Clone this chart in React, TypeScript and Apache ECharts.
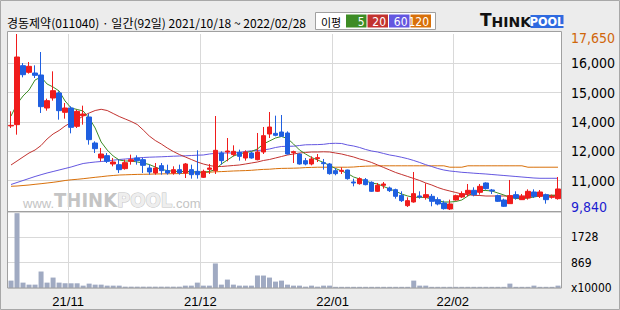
import React, { useEffect, useRef } from 'react';
import * as echarts from 'echarts';

// ---------- data ----------
const categories = [
  '21/10/18','21/10/19','21/10/20','21/10/21','21/10/22','21/10/25','21/10/26','21/10/27','21/10/28','21/10/29',
  '21/11/01','21/11/02','21/11/03','21/11/04','21/11/05','21/11/08','21/11/09','21/11/10','21/11/11','21/11/12',
  '21/11/15','21/11/16','21/11/17','21/11/18','21/11/19','21/11/22','21/11/23','21/11/24','21/11/25','21/11/26',
  '21/11/29','21/11/30',
  '21/12/01','21/12/02','21/12/03','21/12/06','21/12/07','21/12/08','21/12/09','21/12/10','21/12/13','21/12/14',
  '21/12/15','21/12/16','21/12/17','21/12/20','21/12/21','21/12/22','21/12/23','21/12/24','21/12/27','21/12/28',
  '21/12/29','21/12/30',
  '22/01/03','22/01/04','22/01/05','22/01/06','22/01/07','22/01/10','22/01/11','22/01/12','22/01/13','22/01/14',
  '22/01/17','22/01/18','22/01/19','22/01/20','22/01/21','22/01/24','22/01/25','22/01/26','22/01/27','22/01/28',
  '22/02/03','22/02/04','22/02/07','22/02/08','22/02/09','22/02/10','22/02/11','22/02/14','22/02/15','22/02/16',
  '22/02/17','22/02/18','22/02/21','22/02/22','22/02/23','22/02/24','22/02/25','22/02/28',
];

const opens = [
  13570,13627,16245,15949,15919,15831,14366,14810,15032,14174,
  14366,13553,14026,13967,12813,12148,12251,11882,11852,11675,
  12000,12148,12074,11704,11482,11808,11586,11482,11630,11482,
  11630,11556,11290,11645,11586,12370,12414,12296,12399,12148,
  12370,12074,12414,13213,13242,13301,13257,12385,12325,12030,
  11882,12118,11941,11882,11586,11556,11615,11083,11009,11187,
  11068,10669,10935,10817,10743,10491,10033,10196,10462,10403,
  10447,10299,10151,9885,10284,10417,10566,10713,10625,11039,
  10728,10477,10284,10122,10521,10299,10373,10639,10447,10521,
  10403,10344,
];
const closes = [
  13597,16629,15845,16215,15816,14426,14692,15135,14248,14366,
  13509,14218,14100,12961,12562,12325,12000,11970,11630,11941,
  12074,12030,11822,11527,11704,11586,11482,11630,11482,11882,
  11408,11408,11556,11704,12488,12030,12458,12444,12222,12414,
  12148,12414,13139,13523,13154,13109,12325,12429,11882,11882,
  12104,12163,11896,11453,11453,11601,11231,11039,11231,10965,
  10669,10935,10994,10699,10447,10255,10255,10566,10417,10521,
  10225,10107,9900,10107,10477,10566,10713,10521,10891,10787,
  10684,10225,10004,10477,10373,10447,10669,10447,10639,10299,
  10447,10773,
];
const lows = [
  13479,13183,15727,15890,15698,14145,14248,14692,13849,13893,
  13242,13479,13627,12739,12370,12000,11926,11778,11482,11630,
  11852,11852,11482,11408,11408,11408,11408,11408,11408,11260,
  11231,11231,11260,11438,11438,11852,12000,12222,12030,12030,
  12118,12044,12325,13035,13109,13080,12296,11926,11852,11822,
  11822,11970,11630,11408,11379,11438,11187,10891,10965,10935,
  10639,10639,10787,10639,10344,10196,9974,10166,10344,10299,
  10004,10048,9856,9840,10255,10373,10447,10447,10521,10743,
  10551,10196,9974,10107,10299,10284,10299,10373,10373,10122,
  10344,10299,
];
const highs = [
  14218,17650,16363,16407,16260,16851,14781,15993,15106,14588,
  14440,14292,14470,14115,12887,12592,12370,12148,12074,12074,
  12296,12266,12148,11852,11926,11926,11852,11778,11852,11926,
  11852,12488,11630,11882,14011,12444,13035,12710,12518,12488,
  12414,13257,13523,14189,14026,14056,13331,12473,12355,12148,
  12222,12325,12104,11926,11704,11734,11630,11231,11290,11260,
  11113,11039,11083,10876,10787,10669,10403,11527,10669,11024,
  10551,10403,10255,10299,10521,10669,10994,10846,10994,11068,
  10773,10521,10344,11172,10669,10551,10758,10758,10728,10566,
  10521,11305,
];

// volume, x10000 shares
const volumes = [
  253,2560,184,115,115,564,184,357,184,161,
  161,161,81,150,115,115,81,81,81,46,
  46,46,46,46,46,46,46,46,46,81,
  81,184,81,81,840,115,288,115,81,81,
  81,426,426,357,219,253,115,81,81,46,
  81,46,81,81,40,40,40,40,40,40,
  40,40,40,40,40,40,40,253,81,81,
  40,40,40,40,40,40,40,40,40,40,
  40,40,40,150,40,40,40,81,40,40,
  40,81,
];

const ma5 = [
  14011,14544,14899,15165,15609,15742,15431,15298,15121,14677,
  14366,14300,14233,13922,13479,12858,12503,12236,12059,12014,
  12014,11970,11926,11859,11748,11637,11593,11557,11548,11548,
  11548,11526,11526,11548,11637,11881,12059,12236,12325,12392,
  12436,12547,12769,12902,13035,13102,13013,12769,12503,12325,
  12170,12059,11948,11815,11681,11571,11460,11304,11216,11127,
  11038,10994,10883,10772,10670,10550,10461,10404,10404,10395,
  10328,10262,10195,10195,10217,10284,10461,10617,10705,10705,
  10683,10594,10506,10395,10350,10341,10373,10417,10461,10483,
  10492,10492,
];
const ma20 = [
  11837,12014,12192,12369,12503,12702,12991,13213,13368,13568,
  13723,13834,14011,14144,14255,14309,14255,14122,13989,13878,
  13767,13634,13390,13124,12924,12769,12591,12436,12303,12192,
  12081,11970,11881,11815,11770,11770,11793,11815,11837,11881,
  11926,11970,12037,12081,12148,12214,12281,12325,12369,12392,
  12414,12414,12423,12414,12369,12325,12258,12192,12103,12037,
  11948,11837,11726,11615,11504,11415,11327,11238,11149,11038,
  10949,10838,10750,10683,10617,10550,10519,10492,10483,10461,
  10461,10461,10461,10461,10461,10461,10461,10461,10492,10492,
  10492,10492,
];
const ma60 = [
  10972,11060,11149,11238,11327,11406,11482,11548,11615,11682,
  11748,11828,11903,11939,11970,11992,12014,12050,12081,12103,
  12125,12148,12170,12183,12192,12201,12214,12227,12236,12245,
  12258,12272,12281,12325,12356,12369,12369,12369,12392,12436,
  12467,12480,12503,12547,12613,12658,12667,12671,12702,12733,
  12738,12742,12755,12791,12800,12791,12724,12680,12613,12525,
  12458,12414,12347,12281,12236,12179,12116,12037,11948,11850,
  11770,11682,11615,11571,11544,11513,11495,11473,11455,11438,
  11415,11393,11371,11349,11327,11304,11282,11260,11247,11247,
  11247,11247,
];
const ma120 = [
  10892,10905,10927,10949,10980,11007,11038,11069,11105,11149,
  11180,11202,11229,11260,11291,11318,11349,11371,11393,11402,
  11411,11420,11424,11429,11438,11442,11446,11451,11455,11469,
  11482,11491,11500,11517,11535,11544,11557,11571,11580,11588,
  11602,11624,11642,11650,11673,11686,11690,11695,11704,11722,
  11730,11739,11739,11739,11739,11739,11739,11748,11770,11784,
  11793,11801,11801,11801,11801,11801,11801,11801,11801,11801,
  11801,11801,11801,11739,11739,11739,11801,11801,11801,11801,
  11801,11801,11801,11801,11801,11801,11739,11739,11739,11739,
  11739,11739,
];

const priceMin = 9840;
const priceMax = 17650;
const priceTickLabels = ['9,840', '11,000', '12,000', '14,000', '15,000', '16,000', '17,650'];
const volMax = 2600;
const volTickLabels = ['x10000', '869', '1728', ''];

const titleText = '경동제약(011040) · 일간(92일) 2021/10/18 ~ 2022/02/28';
const maLegendTitle = '이평';
const maNames = ['5', '20', '60', '120'];

// ---------- styles ----------
const UP = '#f01c1c';
const DOWN = '#1f5fe0';
const MA_COLORS = ['#3d8c25', '#c23330', '#6457e0', '#d8700a'];
const GRID_LINE = '#d9d9d9';
const FRAME = '#a0a0a0';
const VOL_COLOR = '#a0aac2';
const NARROW = '"Liberation Sans Narrow", "DejaVu Sans Condensed", "Liberation Sans", sans-serif';
const SANS = '"Liberation Sans", "DejaVu Sans", sans-serif';
const KR = '"Noto Sans CJK KR", "Noto Sans", sans-serif';

const isMonthStart = (idx: number) =>
  idx > 0 && categories[idx].slice(0, 5) !== categories[idx - 1].slice(0, 5);

export default function App() {
  const ref = useRef<HTMLDivElement>(null);

  useEffect(() => {
    if (!ref.current) return;
    const chart = echarts.init(ref.current, undefined, { renderer: 'svg', width: 620, height: 310 });

    const priceTicks = priceTickLabels.map((_, k) => priceMin + (k * (priceMax - priceMin)) / (priceTickLabels.length - 1));
    const volStep = volMax / (volTickLabels.length - 1);

    const candleData = opens.map((o, i) => [o, closes[i], lows[i], highs[i]]);

    const maBoxX = [346, 367.5, 389, 410.5];

    const option: any = {
      animation: false,
      backgroundColor: '#ececec',
      grid: [
        { left: 8, top: 34, width: 553, height: 176, outerBoundsMode: 'none', containLabel: false },
        { left: 8, top: 212, width: 553, height: 76, outerBoundsMode: 'none', containLabel: false },
      ],
      xAxis: [
        {
          type: 'category', gridIndex: 0, data: categories, boundaryGap: true,
          axisLine: { show: false }, axisTick: { show: false }, axisLabel: { show: false },
          splitLine: { show: true, interval: (i: number) => isMonthStart(i), lineStyle: { color: GRID_LINE, width: 1 } },
        },
        {
          type: 'category', gridIndex: 1, data: categories, boundaryGap: true,
          axisLine: { show: false }, axisTick: { show: false },
          axisLabel: {
            show: true, interval: (i: number) => isMonthStart(i), formatter: (v: string) => v.slice(0, 5),
            color: '#000', fontFamily: SANS, fontSize: 13, margin: 7, padding: [0, 6, 0, 0],
          },
          splitLine: { show: true, interval: (i: number) => isMonthStart(i), lineStyle: { color: GRID_LINE, width: 1 } },
        },
      ],
      yAxis: [
        {
          type: 'value', gridIndex: 0, position: 'right', min: priceMin, max: priceMax,
          axisLine: { show: false },
          axisTick: { show: false, customValues: priceTicks.slice(1, -1) },
          splitLine: { show: true, lineStyle: { color: GRID_LINE, width: 1 } },
          axisLabel: {
            customValues: priceTicks, margin: 10, color: '#000', fontFamily: NARROW, fontSize: 14,
            formatter: (v: number) => {
              const k = priceTicks.findIndex((t) => Math.abs(t - v) < 0.5);
              if (k < 0) return '';
              if (k === 0) return '{lo|' + priceTickLabels[k] + '}';
              if (k === priceTicks.length - 1) return '{hi|' + priceTickLabels[k] + '}';
              return priceTickLabels[k];
            },
            rich: {
              lo: { color: '#1c1cd0', fontFamily: NARROW, fontSize: 14, padding: [0, 0, 6, 0] },
              hi: { color: '#d0660a', fontFamily: NARROW, fontSize: 14, padding: [8, 0, 0, 0] },
            },
          },
        },
        {
          type: 'value', gridIndex: 1, position: 'right', min: 0, max: volMax, interval: volStep,
          axisLine: { show: false }, axisTick: { show: false },
          splitLine: { show: true, lineStyle: { color: GRID_LINE, width: 1 } },
          axisLabel: {
            margin: 10, color: '#000', fontFamily: NARROW, fontSize: 12, showMaxLabel: true, showMinLabel: true,
            formatter: (v: number) => volTickLabels[Math.round(v / volStep)] ?? '',
          },
        },
      ],
      series: [
        { type: 'line', name: 'MA120', xAxisIndex: 0, yAxisIndex: 0, data: ma120, showSymbol: false, symbol: 'none', lineStyle: { color: MA_COLORS[3], width: 1 }, z: 1, silent: true },
        { type: 'line', name: 'MA60', xAxisIndex: 0, yAxisIndex: 0, data: ma60, showSymbol: false, symbol: 'none', lineStyle: { color: MA_COLORS[2], width: 1 }, z: 1, silent: true },
        { type: 'line', name: 'MA20', xAxisIndex: 0, yAxisIndex: 0, data: ma20, showSymbol: false, symbol: 'none', lineStyle: { color: MA_COLORS[1], width: 1 }, z: 1, silent: true },
        { type: 'line', name: 'MA5', xAxisIndex: 0, yAxisIndex: 0, data: ma5, showSymbol: false, symbol: 'none', lineStyle: { color: MA_COLORS[0], width: 1 }, z: 1, silent: true },
        {
          type: 'candlestick', name: '경동제약', xAxisIndex: 0, yAxisIndex: 0, data: candleData, barWidth: 5, z: 3,
          itemStyle: { color: UP, color0: DOWN, borderColor: UP, borderColor0: DOWN, borderWidth: 1 },
        },
        { type: 'bar', name: '거래량', xAxisIndex: 1, yAxisIndex: 1, data: volumes, barWidth: 5, itemStyle: { color: VOL_COLOR }, z: 2 },
      ],
      graphic: [
        { type: 'rect', z: -10, shape: { x: 7.5, y: 31.5, width: 554, height: 256.5 }, style: { fill: '#ffffff' }, silent: true },
        { type: 'rect', z: 100, shape: { x: 7.5, y: 31.5, width: 554, height: 256.5 }, style: { fill: 'none', stroke: FRAME, lineWidth: 1 }, silent: true },
        { type: 'line', z: 100, shape: { x1: 7.5, y1: 211.5, x2: 561.5, y2: 211.5 }, style: { stroke: FRAME, lineWidth: 1 }, silent: true },
        { type: 'rect', z: 100, shape: { x: 0.5, y: 0.5, width: 619, height: 309 }, style: { fill: 'none', stroke: '#a8a8a8', lineWidth: 1 }, silent: true },
        // title
        { type: 'text', x: 7, y: 22.5, style: { text: titleText, fill: '#000', fontFamily: KR, fontSize: 12, align: 'left', verticalAlign: 'middle' } },
        // MA legend box
        { type: 'rect', shape: { x: 315.5, y: 12.5, width: 120, height: 17 }, style: { fill: '#ffffff', stroke: FRAME, lineWidth: 1 } },
        { type: 'text', x: 321, y: 21.5, style: { text: maLegendTitle, fill: '#000', fontFamily: KR, fontSize: 11, align: 'left', verticalAlign: 'middle' } },
        ...maNames.flatMap((n, k) => [
          { type: 'rect', shape: { x: maBoxX[k], y: 14.5, width: 20.5, height: 13 }, style: { fill: MA_COLORS[k] } },
          { type: 'text', x: maBoxX[k] + 18.5, y: 21.5, style: { text: n, fill: '#fff', fontFamily: NARROW, fontSize: 12, align: 'right', verticalAlign: 'middle' } },
        ]),
        // THINKPOOL logo
        {
          type: 'text', x: 480, y: 28.5,
          style: {
            text: '{t|T}{h|HINK}', align: 'left', verticalAlign: 'bottom',
            rich: {
              t: { fontFamily: '"DejaVu Sans", sans-serif', fontWeight: 'bold', fontSize: 17, fill: '#111', verticalAlign: 'bottom' },
              h: { fontFamily: '"DejaVu Sans", sans-serif', fontWeight: 'bold', fontSize: 14, fill: '#111', verticalAlign: 'bottom' },
            },
          },
        },
        { type: 'rect', shape: { x: 530.5, y: 15, width: 33, height: 13 }, style: { fill: '#2e6ae0' } },
        { type: 'text', x: 547, y: 21.8, style: { text: 'POOL', fill: '#fff', fontFamily: NARROW, fontWeight: 'bold', fontSize: 12.5, align: 'center', verticalAlign: 'middle' } },
        // watermark
        {
          type: 'text', x: 23, y: 210, z: -5, silent: true,
          style: {
            text: '{a|www.}{b|THINK}{c|POOL}{a|.com}', align: 'left', verticalAlign: 'bottom',
            rich: {
              a: { fontFamily: SANS, fontSize: 13, fill: '#c4c4c4', verticalAlign: 'bottom' },
              b: { fontFamily: NARROW, fontWeight: 'bold', fontSize: 20, fill: '#c4c4c4', verticalAlign: 'bottom' },
              c: { fontFamily: NARROW, fontWeight: 'bold', fontSize: 20, fill: '#eeeeee', stroke: '#c4c4c4', lineWidth: 1, verticalAlign: 'bottom' },
            },
          },
        },
      ],
    };

    chart.setOption(option);
    return () => chart.dispose();
  }, []);

  return (
    <div style={{ position: 'fixed', left: 0, top: 0, width: 620, height: 310 }}>
      <div ref={ref} style={{ width: 620, height: 310 }} />
    </div>
  );
}
